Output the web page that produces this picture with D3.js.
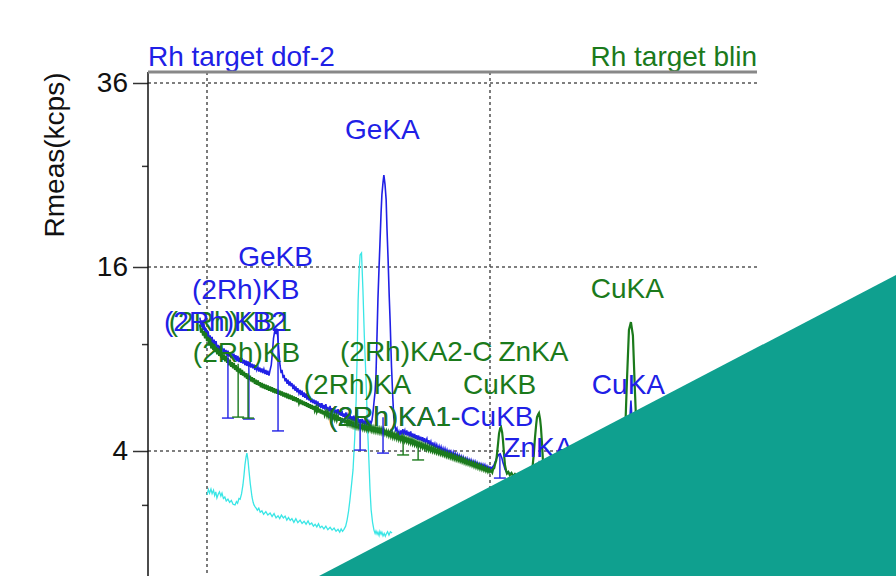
<!DOCTYPE html>
<html><head><meta charset="utf-8">
<script src="https://cdn.jsdelivr.net/npm/d3@7/dist/d3.min.js"></script>
<style>
body{margin:0;background:#fff}
svg{display:block}
text{font-family:"Liberation Sans",Arial,Helvetica,sans-serif}
</style>
</head><body>
<svg id="chart" width="896" height="576"></svg>
<script>
// ---------- data (x = 2-theta in degrees, y = Rmeas in kcps) ----------
const yMajorTicks = [4, 16, 36];
const yMinorTicks = [2, 10, 26];
const xGridTicks = [30, 40];
const seriesNames = ["Rh target dof-2", "Rh target blin"];

// cyan reference spectrum
const refSpectrum = [[30.0,2.32],[30.05,2.5],[30.09,2.38],[30.14,2.52],[30.18,2.36],[30.23,2.48],[30.27,2.3],[30.31,2.42],[30.35,2.22],[30.4,2.35],[30.44,2.42],[30.49,2.28],[30.53,2.38],[30.58,2.2],[30.63,2.25],[30.68,2.12],[30.74,2.18],[30.8,2.08],[30.86,2.14],[30.92,2.02],[30.99,2.0],[31.04,2.1],[31.08,2.05],[31.13,2.2],[31.17,2.18],[31.22,2.35],[31.27,2.66],[31.31,3.05],[31.34,3.41],[31.38,3.75],[31.41,3.91],[31.45,3.6],[31.48,3.22],[31.53,2.7],[31.59,2.25],[31.63,2.08],[31.66,2.0],[31.7,1.94],[31.73,1.91],[31.78,1.84],[31.83,1.9],[31.88,1.78],[31.94,1.82],[32.0,1.72],[32.08,1.8],[32.15,1.7],[32.23,1.76],[32.3,1.66],[32.37,1.74],[32.44,1.62],[32.51,1.68],[32.57,1.6],[32.63,1.7],[32.7,1.62],[32.76,1.67],[32.82,1.56],[32.88,1.63],[32.94,1.55],[33.0,1.6],[33.07,1.5],[33.14,1.6],[33.21,1.49],[33.29,1.56],[33.36,1.47],[33.43,1.53],[33.5,1.45],[33.57,1.54],[33.63,1.44],[33.7,1.48],[33.76,1.4],[33.82,1.45],[33.88,1.38],[33.94,1.46],[34.0,1.36],[34.06,1.4],[34.13,1.33],[34.2,1.4],[34.27,1.31],[34.35,1.37],[34.42,1.3],[34.49,1.35],[34.56,1.27],[34.63,1.32],[34.69,1.25],[34.74,1.33],[34.79,1.27],[34.84,1.32],[34.9,1.4],[34.95,1.56],[35.0,1.8],[35.05,2.15],[35.1,2.6],[35.16,3.22],[35.22,4.6],[35.27,6.52],[35.31,9.5],[35.34,13.26],[35.38,15.8],[35.41,17.06],[35.46,17.24],[35.51,14.06],[35.56,10.5],[35.62,7.68],[35.67,5.2],[35.72,3.62],[35.76,2.5],[35.80,1.85],[35.85,1.5],[35.90,1.30],[35.94,1.22],[35.97,1.28],[36.01,1.2],[36.04,1.25],[36.08,1.17],[36.11,1.27],[36.15,1.2],[36.18,1.25],[36.22,1.16],[36.26,1.22],[36.3,1.15],[36.33,1.2],[36.38,1.26],[36.43,1.18],[36.48,1.26],[36.54,1.23]];

// blue spectrum: Rh target dof-2
const dof2Spectrum = [[29.75,11.9],[29.79,11.2],[29.82,11.7],[29.86,11.0],[29.89,11.5],[29.93,10.7],[29.96,11.1],[30.0,10.5],[30.04,10.9],[30.08,10.3],[30.11,10.6],[30.15,10.0],[30.18,10.5],[30.22,9.9],[30.25,10.3],[30.29,9.8],[30.32,10.2],[30.36,9.6],[30.39,9.95],[30.43,9.5],[30.46,9.9],[30.5,9.4],[30.53,9.75],[30.57,9.35],[30.6,9.7],[30.64,9.3],[30.67,9.6],[30.71,9.2],[30.74,9.55],[30.78,9.15],[30.81,9.45],[30.85,9.05],[30.88,9.4],[30.92,9.0],[30.95,9.35],[30.99,8.95],[31.02,9.25],[31.06,8.85],[31.09,9.2],[31.13,8.8],[31.17,9.1],[31.2,8.75],[31.24,9.05],[31.27,8.7],[31.31,8.95],[31.34,8.6],[31.38,8.9],[31.41,8.55],[31.45,8.85],[31.48,8.5],[31.52,8.8],[31.55,8.45],[31.59,8.7],[31.62,8.4],[31.66,8.65],[31.69,8.3],[31.73,8.6],[31.76,8.3],[31.8,8.5],[31.83,8.2],[31.87,8.45],[31.9,8.15],[31.94,8.4],[31.97,8.1],[32.01,8.35],[32.05,8.05],[32.08,8.3],[32.12,8.0],[32.15,8.25],[32.19,7.95],[32.23,8.3],[32.27,8.6],[32.31,9.4],[32.35,10.4],[32.40,11.0],[32.44,10.7],[32.47,11.1],[32.51,10.3],[32.55,9.2],[32.58,8.6],[32.62,8.1],[32.65,8.3],[32.69,7.8],[32.72,8.0],[32.76,7.6],[32.79,7.8],[32.83,7.45],[32.86,7.7],[32.9,7.35],[32.93,7.6],[32.97,7.3],[33.0,7.5],[33.04,7.15],[33.07,7.4],[33.11,7.05],[33.14,7.3],[33.18,6.95],[33.21,7.2],[33.25,6.9],[33.29,7.1],[33.32,6.8],[33.36,7.05],[33.39,6.7],[33.43,6.95],[33.46,6.65],[33.5,6.9],[33.53,6.55],[33.57,6.8],[33.6,6.5],[33.64,6.7],[33.67,6.4],[33.71,6.6],[33.74,6.35],[33.78,6.55],[33.81,6.3],[33.85,6.5],[33.88,6.2],[33.92,6.45],[33.95,6.15],[33.99,6.35],[34.02,6.1],[34.06,6.35],[34.09,6.05],[34.13,6.25],[34.16,6.0],[34.2,6.3],[34.24,5.95],[34.27,6.15],[34.31,5.9],[34.35,6.2],[34.38,5.88],[34.42,6.08],[34.45,5.85],[34.49,6.1],[34.52,5.8],[34.56,6.0],[34.59,5.75],[34.63,6.02],[34.67,5.72],[34.7,5.9],[34.74,5.68],[34.77,5.92],[34.81,5.62],[34.84,5.8],[34.88,5.58],[34.91,5.85],[34.95,5.55],[34.98,5.72],[35.02,5.5],[35.05,5.78],[35.09,5.45],[35.12,5.65],[35.16,5.42],[35.19,5.68],[35.23,5.38],[35.26,5.58],[35.3,5.35],[35.33,5.6],[35.37,5.3],[35.41,5.5],[35.44,5.28],[35.48,5.52],[35.51,5.25],[35.55,5.42],[35.58,5.22],[35.62,5.45],[35.65,5.2],[35.69,5.38],[35.72,5.2],[35.76,5.4],[35.8,5.3],[35.83,5.45],[35.87,5.9],[35.90,6.4],[35.94,7.0],[35.97,7.9],[36.0,10.0],[36.04,13.3],[36.08,16.0],[36.11,18.0],[36.15,21.0],[36.18,22.9],[36.22,24.2],[36.25,25.0],[36.29,24.0],[36.33,22.4],[36.36,19.5],[36.40,16.6],[36.44,13.5],[36.47,11.7],[36.52,8.5],[36.57,6.5],[36.60,5.6],[36.64,5.2],[36.67,4.95],[36.71,5.05],[36.74,4.75],[36.78,4.9],[36.81,4.7],[36.85,4.95],[36.88,4.75],[36.92,5.0],[36.95,4.8],[36.99,4.95],[37.02,4.72],[37.06,4.95],[37.09,4.7],[37.13,4.88],[37.16,4.65],[37.2,4.9],[37.23,4.62],[37.27,4.8],[37.3,4.58],[37.34,4.78],[37.37,4.55],[37.41,4.72],[37.44,4.5],[37.48,4.7],[37.51,4.48],[37.55,4.65],[37.58,4.45],[37.62,4.62],[37.65,4.4],[37.69,4.58],[37.72,4.38],[37.77,4.55],[37.8,4.32],[37.84,4.48],[37.87,4.28],[37.91,4.42],[37.94,4.22],[37.98,4.38],[38.01,4.18],[38.05,4.32],[38.08,4.12],[38.12,4.28],[38.16,4.08],[38.2,4.22],[38.23,4.04],[38.27,4.18],[38.3,3.98],[38.34,4.12],[38.37,3.95],[38.41,4.1],[38.44,3.92],[38.48,4.05],[38.51,3.88],[38.55,4.0],[38.58,3.85],[38.62,3.98],[38.66,3.8],[38.7,3.95],[38.73,3.78],[38.77,3.9],[38.8,3.74],[38.84,3.86],[38.87,3.7],[38.91,3.82],[38.94,3.66],[38.98,3.78],[39.01,3.63],[39.05,3.75],[39.08,3.6],[39.12,3.7],[39.15,3.56],[39.19,3.68],[39.22,3.53],[39.26,3.64],[39.29,3.5],[39.33,3.62],[39.36,3.47],[39.4,3.58],[39.43,3.45],[39.47,3.56],[39.5,3.42],[39.54,3.52],[39.57,3.4],[39.61,3.48],[39.64,3.36],[39.68,3.46],[39.71,3.34],[39.75,3.44],[39.78,3.31],[39.82,3.42],[39.85,3.29],[39.89,3.38],[39.92,3.26],[39.96,3.34],[40.0,3.24],[40.03,3.32],[40.07,3.28],[40.10,3.36],[40.14,3.4],[40.17,3.5],[40.21,3.62],[40.24,3.7],[40.28,3.78],[40.31,3.85],[40.36,3.88],[40.42,3.7],[40.46,3.5],[40.49,3.4],[40.53,3.25],[40.56,3.18],[40.6,3.1],[40.63,3.14],[40.7,3.05],[40.75,3.1],[40.82,3.0],[40.88,3.04],[41.0,2.95],[41.1,2.98],[41.24,2.91],[41.35,2.94],[41.50,2.9],[41.62,3.1],[41.73,3.5],[41.82,3.1],[41.95,2.85],[42.47,2.77],[43.0,2.65],[43.89,2.48],[44.6,2.35],[44.8,2.6],[44.98,6.5],[45.15,2.6],[45.3,2.3],[46.71,2.15],[48.0,2.05],[49.43,2.0]];

// green spectrum: Rh target blin
const blinSpectrum = [[29.75,11.4],[29.79,10.8],[29.82,11.1],[29.86,10.6],[29.89,10.9],[29.93,10.4],[29.96,10.8],[30.0,10.2],[30.04,10.5],[30.08,9.9],[30.11,10.4],[30.15,9.7],[30.18,10.1],[30.22,9.6],[30.25,10.0],[30.29,9.45],[30.32,9.8],[30.36,9.3],[30.39,9.7],[30.43,9.2],[30.46,9.55],[30.5,9.1],[30.53,9.45],[30.57,8.95],[30.6,9.3],[30.64,8.85],[30.67,9.2],[30.71,8.75],[30.74,9.05],[30.78,8.6],[30.81,8.95],[30.85,8.5],[30.88,8.8],[30.92,8.4],[30.95,8.75],[30.99,8.3],[31.02,8.6],[31.06,8.2],[31.09,8.5],[31.13,8.1],[31.17,8.4],[31.2,8.0],[31.24,8.3],[31.27,7.95],[31.31,8.2],[31.34,7.85],[31.38,8.1],[31.41,7.75],[31.45,8.0],[31.48,7.7],[31.52,7.95],[31.55,7.6],[31.59,7.85],[31.62,7.55],[31.66,7.8],[31.69,7.45],[31.73,7.7],[31.76,7.4],[31.8,7.65],[31.83,7.35],[31.87,7.55],[31.9,7.25],[31.94,7.5],[31.97,7.2],[32.01,7.45],[32.05,7.15],[32.08,7.4],[32.12,7.1],[32.15,7.35],[32.19,7.05],[32.23,7.3],[32.27,7.0],[32.3,7.25],[32.34,6.95],[32.37,7.2],[32.41,6.9],[32.44,7.15],[32.48,6.88],[32.51,7.1],[32.55,6.82],[32.58,7.05],[32.62,6.78],[32.65,7.0],[32.69,6.72],[32.72,6.95],[32.76,6.68],[32.79,6.92],[32.83,6.62],[32.86,6.88],[32.9,6.58],[32.93,6.82],[32.97,6.55],[33.0,6.78],[33.04,6.48],[33.07,6.72],[33.11,6.45],[33.14,6.68],[33.18,6.4],[33.21,6.62],[33.25,6.35],[33.29,6.55],[33.32,6.3],[33.36,6.5],[33.39,6.25],[33.43,6.45],[33.46,6.2],[33.5,6.4],[33.53,6.15],[33.57,6.35],[33.6,6.1],[33.64,6.3],[33.67,6.05],[33.71,6.25],[33.74,6.0],[33.78,6.2],[33.81,5.95],[33.85,6.12],[33.88,5.9],[33.92,6.08],[33.95,5.85],[33.99,6.05],[34.02,5.8],[34.06,6.0],[34.09,5.75],[34.13,5.95],[34.16,5.72],[34.2,5.9],[34.24,5.68],[34.27,5.85],[34.31,5.62],[34.35,5.8],[34.38,5.58],[34.42,5.76],[34.45,5.55],[34.49,5.72],[34.52,5.5],[34.56,5.68],[34.59,5.46],[34.63,5.64],[34.67,5.42],[34.7,5.6],[34.74,5.38],[34.77,5.56],[34.81,5.34],[34.84,5.52],[34.88,5.3],[34.91,5.48],[34.95,5.27],[34.98,5.44],[35.02,5.24],[35.05,5.4],[35.09,5.2],[35.12,5.36],[35.16,5.16],[35.19,5.32],[35.23,5.13],[35.26,5.3],[35.3,5.1],[35.33,5.26],[35.37,5.07],[35.41,5.23],[35.44,5.05],[35.48,5.2],[35.51,5.02],[35.55,5.18],[35.58,5.0],[35.62,5.16],[35.65,4.98],[35.69,5.14],[35.72,4.96],[35.76,5.12],[35.8,4.94],[35.83,5.1],[35.87,4.92],[35.9,5.08],[35.94,4.9],[35.97,5.06],[36.01,4.88],[36.04,5.04],[36.08,4.86],[36.11,5.02],[36.15,4.84],[36.18,5.0],[36.22,4.82],[36.25,4.98],[36.29,4.78],[36.33,4.92],[36.36,4.74],[36.4,4.88],[36.43,4.7],[36.47,4.85],[36.5,4.66],[36.54,4.82],[36.57,4.62],[36.61,4.78],[36.64,4.6],[36.68,4.75],[36.71,4.56],[36.75,4.72],[36.78,4.53],[36.82,4.7],[36.85,4.5],[36.89,4.66],[36.92,4.47],[36.96,4.62],[36.99,4.44],[37.03,4.58],[37.06,4.42],[37.1,4.55],[37.13,4.38],[37.17,4.52],[37.2,4.35],[37.24,4.5],[37.27,4.32],[37.31,4.46],[37.34,4.28],[37.38,4.42],[37.41,4.25],[37.45,4.38],[37.48,4.22],[37.52,4.35],[37.55,4.18],[37.59,4.32],[37.62,4.15],[37.66,4.28],[37.69,4.12],[37.73,4.25],[37.76,4.08],[37.8,4.22],[37.83,4.05],[37.87,4.18],[37.9,4.02],[37.94,4.15],[37.97,3.99],[38.01,4.12],[38.04,3.96],[38.08,4.08],[38.11,3.93],[38.15,4.05],[38.18,3.9],[38.22,4.02],[38.25,3.87],[38.29,3.98],[38.32,3.84],[38.36,3.95],[38.39,3.81],[38.43,3.92],[38.46,3.78],[38.5,3.9],[38.53,3.75],[38.57,3.86],[38.6,3.72],[38.64,3.83],[38.67,3.69],[38.71,3.8],[38.74,3.66],[38.78,3.77],[38.81,3.63],[38.85,3.74],[38.88,3.6],[38.92,3.71],[38.95,3.57],[38.99,3.68],[39.02,3.54],[39.06,3.65],[39.09,3.51],[39.13,3.62],[39.16,3.48],[39.2,3.58],[39.23,3.45],[39.27,3.55],[39.3,3.42],[39.34,3.52],[39.37,3.39],[39.41,3.49],[39.44,3.36],[39.48,3.46],[39.51,3.33],[39.55,3.43],[39.58,3.3],[39.62,3.4],[39.65,3.27],[39.69,3.37],[39.72,3.24],[39.76,3.33],[39.79,3.21],[39.83,3.3],[39.86,3.18],[39.9,3.27],[39.93,3.15],[39.97,3.24],[40.0,3.14],[40.04,3.2],[40.08,3.12],[40.11,3.25],[40.15,3.3],[40.18,3.45],[40.22,3.6],[40.25,3.9],[40.29,4.4],[40.32,4.8],[40.36,5.05],[40.39,5.1],[40.43,4.85],[40.46,4.45],[40.5,3.8],[40.53,3.4],[40.57,3.2],[40.60,3.08],[40.65,3.14],[40.70,3.02],[40.76,3.1],[40.82,2.98],[40.88,3.06],[40.95,2.95],[41.05,3.02],[41.15,2.94],[41.24,3.0],[41.32,2.92],[41.40,3.02],[41.46,3.1],[41.50,3.3],[41.55,3.9],[41.59,4.6],[41.63,5.2],[41.66,5.6],[41.70,5.75],[41.73,5.82],[41.77,5.5],[41.80,5.1],[41.84,4.3],[41.87,3.6],[41.92,3.1],[41.98,2.9],[42.47,2.84],[43.53,2.66],[44.59,2.48],[44.73,3.22],[44.84,7.68],[44.91,11.0],[44.98,11.57],[45.05,10.6],[45.12,7.1],[45.23,3.22],[45.37,2.42],[46.71,2.32],[49.43,2.15]];

// error bars: [2theta, high, low]
const dof2ErrorBars = [[30.74,9.5,5.56],[31.48,8.8,5.51],[32.51,11.0,4.92],[35.41,5.42,4.04],[36.22,5.6,3.91],[40.35,3.85,2.91]];
const blinErrorBars = [[31.10,8.7,5.61],[31.45,8.1,5.56],[36.93,4.63,3.83],[37.46,4.38,3.62]];

// line labels: [text, 2theta (left edge), kcps (baseline)]
const dof2Labels = [["GeKA",34.88,29.07],["GeKB",31.10,16.09],["(2Rh)KB",29.47,13.34],["(2Rh)KB2",28.48,10.92],["(2Rh)KA1-CuKB",34.28,5.16],["CuKA",43.60,6.86],["ZnKA",40.47,3.74]];
const blinLabels = [["(2Rh)KB1",28.65,10.92],["(2Rh)KB",29.50,8.81],["(2Rh)KA2-C",34.70,8.87],["ZnKA",40.30,8.87],["(2Rh)KA",33.42,6.86],["CuKB",39.05,6.86],["CuKA",43.56,13.42],["(2Rh)KA1-",34.28,5.16]];

// ---------- drawing ----------
(function () {
const W = 896, H = 576;
const pLeft = 148, pRight = 757, pTop = 72;
const svg = d3.select("#chart");
const FONT = 28;
const BLUE = "#2020e6", GREEN = "#1b7a1b", CYAN = "#3ae6e6";

const x = d3.scaleLinear().domain([27.915, 49.435]).range([pLeft, pRight]);
const y = d3.scaleSqrt().domain([0, 36]).range([635, 83]);

const grid = svg.append("g");
grid.selectAll("line.h").data(yMajorTicks).join("line")
  .attr("x1", pLeft).attr("x2", pRight).attr("y1", d => y(d)).attr("y2", d => y(d))
  .attr("stroke", "#555").attr("stroke-width", 1.4).attr("stroke-dasharray", "3,3");
grid.selectAll("line.v").data(xGridTicks).join("line")
  .attr("x1", d => x(d)).attr("x2", d => x(d)).attr("y1", pTop).attr("y2", H + 20)
  .attr("stroke", "#444").attr("stroke-width", 1.4).attr("stroke-dasharray", "3,3");

const line = d3.line().x(d => x(d[0])).y(d => y(d[1]));
svg.append("path").datum(refSpectrum).attr("d", line)
  .attr("fill", "none").attr("stroke", CYAN).attr("stroke-width", 1.3);
svg.append("path").datum(dof2Spectrum).attr("d", line)
  .attr("fill", "none").attr("stroke", BLUE).attr("stroke-width", 1.6);
svg.append("path").datum(blinSpectrum).attr("d", line)
  .attr("fill", "none").attr("stroke", GREEN).attr("stroke-width", 2.2);

function errorBars(data, color) {
  const g = svg.append("g").attr("stroke", color).attr("stroke-width", 1.4);
  g.selectAll("line.s").data(data).join("line")
    .attr("x1", d => x(d[0])).attr("x2", d => x(d[0]))
    .attr("y1", d => y(d[1])).attr("y2", d => y(d[2]));
  g.selectAll("line.c").data(data).join("line")
    .attr("x1", d => x(d[0]) - 6).attr("x2", d => x(d[0]) + 6)
    .attr("y1", d => y(d[2])).attr("y2", d => y(d[2]));
}
errorBars(dof2ErrorBars, BLUE);
errorBars(blinErrorBars, GREEN);

function labels(data, color) {
  svg.append("g").selectAll("text").data(data).join("text")
    .attr("x", d => x(d[1])).attr("y", d => y(d[2]))
    .attr("fill", color).attr("font-size", FONT).text(d => d[0]);
}
labels(blinLabels.slice(0, 1), GREEN);
labels(dof2Labels, BLUE);
labels(blinLabels.slice(1), GREEN);

svg.append("text").attr("x", pLeft).attr("y", 66).attr("fill", BLUE)
  .attr("font-size", FONT).text(seriesNames[0]);
svg.append("text").attr("x", pRight).attr("y", 66).attr("fill", GREEN)
  .attr("text-anchor", "end").attr("font-size", FONT).text(seriesNames[1]);

const yAxis = d3.axisLeft(y).tickValues(yMajorTicks).tickSize(15).tickPadding(5).tickFormat(d3.format("d"));
const ag = svg.append("g").attr("transform", `translate(${pLeft},0)`).call(yAxis);
ag.select(".domain").remove();
ag.selectAll(".tick line").attr("stroke", "#333").attr("stroke-width", 1.5);
ag.selectAll(".tick text").attr("font-size", FONT).attr("fill", "#111")
  .attr("font-family", '"Liberation Sans",Arial,sans-serif');
const minor = d3.axisLeft(y).tickValues(yMinorTicks).tickSize(6).tickFormat("");
const mg = svg.append("g").attr("transform", `translate(${pLeft},0)`).call(minor);
mg.select(".domain").remove();
mg.selectAll(".tick line").attr("stroke", "#333").attr("stroke-width", 1.5);

svg.append("line").attr("x1", pLeft).attr("x2", pLeft).attr("y1", pTop).attr("y2", H)
  .attr("stroke", "#111").attr("stroke-width", 1.5);
svg.append("line").attr("x1", pLeft).attr("x2", pRight).attr("y1", pTop).attr("y2", pTop)
  .attr("stroke", "#888").attr("stroke-width", 3);

svg.append("text").attr("transform", "translate(64,155) rotate(-90)")
  .attr("text-anchor", "middle").attr("font-size", FONT).attr("fill", "#111")
  .text("Rmeas(kcps)");

svg.append("polygon").attr("points", `319,${H} ${W},275 ${W},${H}`).attr("fill", "#0fa08f");
})();
</script>
</body></html>
